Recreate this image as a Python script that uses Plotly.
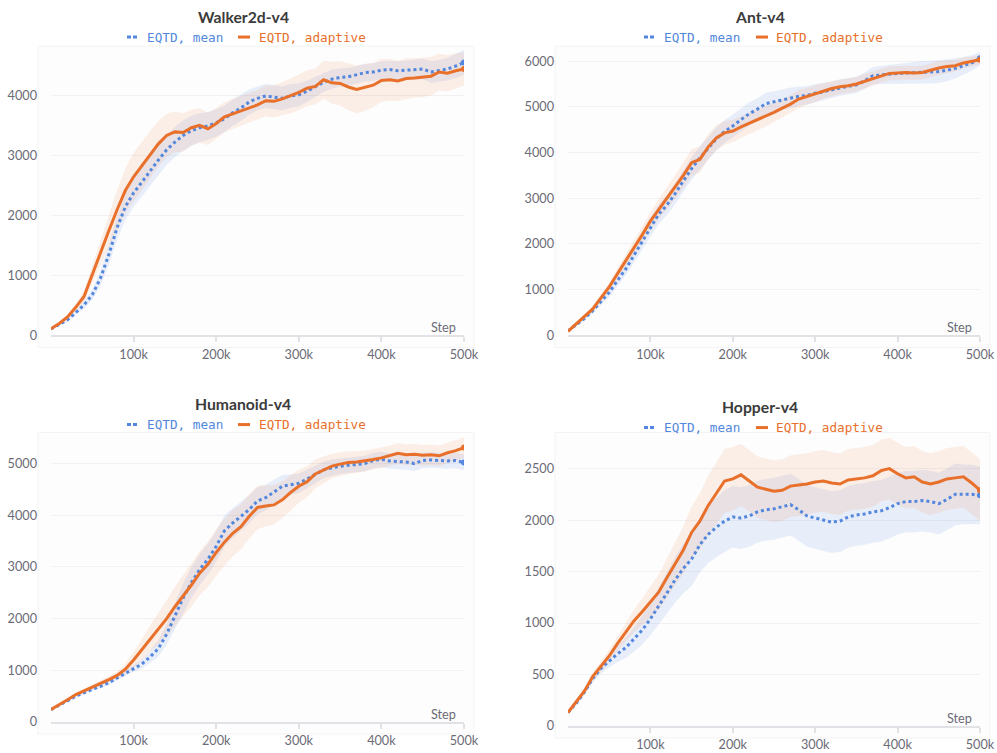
import numpy as np
import plotly.graph_objects as go

STEPS = list(range(0, 500001, 10000))
XTICKS = [100000, 200000, 300000, 400000, 500000]
XTICK_LABELS = ["100k", "200k", "300k", "400k", "500k"]

TITLES = ["Walker2d-v4", "Ant-v4", "Humanoid-v4", "Hopper-v4"]
SERIES_NAMES = ["EQTD, mean", "EQTD, adaptive"]

# ---------------- Walker2d-v4 ----------------
walker_mean = [110, 190, 260, 380, 510, 680, 960, 1350, 1800, 2150, 2380, 2560, 2750, 2930, 3100, 3230, 3340,
               3420, 3470, 3500, 3550, 3620, 3720, 3800, 3900, 3960, 4000, 3980, 3960, 4000, 4020, 4080, 4150,
               4230, 4280, 4310, 4320, 4350, 4390, 4400, 4430, 4440, 4420, 4430, 4440, 4450, 4400, 4420, 4450,
               4500, 4560]
walker_mean_std = [20, 25, 30, 40, 60, 90, 130, 170, 200, 220, 230, 240, 250, 250, 250, 250, 250, 250, 240, 230,
                   230, 220, 220, 220, 210, 200, 200, 200, 200, 200, 190, 180, 170, 160, 160, 150, 150, 150, 150,
                   150, 150, 150, 160, 160, 170, 170, 180, 180, 190, 200, 210]
walker_adapt = [110, 200, 310, 470, 650, 1020, 1400, 1750, 2100, 2420, 2650, 2830, 3020, 3200, 3340, 3400, 3390,
                3470, 3510, 3450, 3540, 3650, 3700, 3750, 3800, 3850, 3920, 3910, 3950, 4000, 4060, 4130, 4160,
                4270, 4220, 4210, 4150, 4110, 4140, 4180, 4260, 4270, 4250, 4290, 4300, 4310, 4330, 4400, 4380,
                4420, 4450]
walker_adapt_std = [20, 25, 35, 60, 100, 150, 220, 280, 330, 370, 400, 400, 400, 380, 360, 340, 320, 300, 290,
                    270, 260, 250, 250, 250, 250, 250, 260, 270, 280, 290, 300, 300, 300, 320, 350, 370, 390, 400,
                    390, 370, 360, 350, 340, 340, 330, 330, 320, 310, 300, 290, 280]

# ---------------- Ant-v4 ----------------
ant_mean = [100, 230, 370, 540, 740, 940, 1200, 1450, 1750, 2050, 2380, 2650, 2850, 3100, 3380, 3650, 3880, 4100,
            4300, 4460, 4580, 4720, 4850, 4950, 5070, 5110, 5150, 5200, 5230, 5250, 5300, 5330, 5370, 5420, 5450,
            5480, 5570, 5680, 5700, 5710, 5730, 5740, 5750, 5750, 5760, 5770, 5800, 5840, 5900, 5960, 6060]
ant_mean_std = [20, 30, 40, 60, 80, 100, 120, 140, 160, 180, 200, 210, 220, 230, 240, 250, 250, 250, 250, 250,
                250, 250, 250, 240, 240, 230, 230, 220, 210, 200, 200, 190, 180, 180, 180, 180, 180, 190, 200, 210,
                220, 230, 240, 250, 250, 250, 240, 220, 200, 170, 150]
ant_adapt = [90, 250, 400, 580, 820, 1060, 1350, 1630, 1900, 2200, 2500, 2750, 2980, 3240, 3500, 3780, 3850, 4120,
             4320, 4430, 4470, 4560, 4640, 4720, 4790, 4880, 4970, 5060, 5170, 5230, 5280, 5350, 5400, 5440, 5460,
             5500, 5560, 5620, 5680, 5730, 5740, 5750, 5740, 5750, 5800, 5850, 5880, 5900, 5960, 5990, 6030]
ant_adapt_std = [20, 30, 40, 60, 80, 100, 120, 140, 160, 180, 200, 220, 240, 260, 280, 290, 290, 280, 270, 260,
                 250, 240, 240, 230, 220, 210, 200, 200, 200, 190, 180, 170, 170, 160, 160, 160, 160, 150, 150, 150,
                 150, 150, 150, 150, 150, 150, 140, 130, 120, 110, 100]

# ---------------- Humanoid-v4 ----------------
humanoid_mean = [240, 320, 410, 500, 570, 630, 690, 760, 850, 940, 1040, 1120, 1260, 1420, 1700, 2050, 2400, 2700,
                 2950, 3150, 3400, 3700, 3850, 3980, 4110, 4280, 4340, 4450, 4560, 4590, 4620, 4700, 4790, 4880,
                 4920, 4950, 4970, 4980, 5000, 5060, 5080, 5050, 5040, 5030, 5000, 5060, 5070, 5060, 5050, 5060,
                 5020]
humanoid_mean_std = [20, 20, 25, 30, 30, 35, 40, 45, 50, 60, 70, 90, 120, 160, 200, 250, 280, 300, 300, 300, 300,
                     300, 290, 280, 270, 260, 250, 240, 220, 200, 190, 180, 170, 160, 160, 150, 150, 150, 150, 150,
                     150, 150, 150, 150, 150, 150, 150, 150, 150, 150, 150]
humanoid_adapt = [240, 330, 430, 530, 600, 680, 750, 820, 900, 1020, 1200, 1400, 1620, 1800, 2000, 2230, 2430,
                  2650, 2880, 3050, 3280, 3480, 3650, 3780, 3980, 4150, 4180, 4200, 4300, 4440, 4560, 4650, 4800,
                  4880, 4950, 4990, 5020, 5030, 5050, 5080, 5110, 5150, 5200, 5170, 5180, 5160, 5170, 5150, 5210,
                  5250, 5310]
humanoid_adapt_std = [20, 20, 30, 30, 40, 40, 50, 60, 70, 100, 150, 200, 250, 300, 350, 380, 400, 420, 430, 440,
                      450, 450, 450, 440, 430, 420, 400, 380, 360, 340, 320, 300, 280, 260, 240, 230, 220, 210, 200,
                      200, 200, 200, 200, 200, 200, 200, 200, 200, 200, 200, 200]

# ---------------- Hopper-v4 ----------------
hopper_mean = [130, 220, 330, 460, 560, 630, 700, 760, 840, 930, 1040, 1160, 1290, 1420, 1530, 1620, 1760, 1860,
               1930, 1990, 2030, 2020, 2040, 2080, 2100, 2110, 2130, 2150, 2100, 2040, 2020, 2000, 1980, 1990, 2030,
               2050, 2060, 2080, 2090, 2120, 2160, 2180, 2180, 2190, 2180, 2160, 2200, 2250, 2250, 2250, 2240]
hopper_mean_std = [10, 20, 30, 40, 50, 60, 80, 100, 120, 140, 160, 180, 200, 220, 240, 260, 270, 280, 290, 300,
                   300, 300, 300, 300, 300, 300, 300, 300, 300, 300, 300, 300, 300, 300, 300, 300, 300, 300, 300,
                   300, 300, 300, 300, 300, 300, 300, 300, 300, 290, 290, 280]
hopper_adapt = [130, 230, 340, 480, 580, 680, 800, 910, 1020, 1110, 1200, 1300, 1440, 1580, 1710, 1880, 1990, 2140,
                2260, 2380, 2400, 2440, 2380, 2320, 2300, 2280, 2290, 2330, 2340, 2350, 2370, 2380, 2360, 2350,
                2390, 2400, 2410, 2430, 2480, 2500, 2450, 2410, 2420, 2370, 2350, 2370, 2400, 2410, 2420, 2360,
                2290]
hopper_adapt_std = [10, 20, 30, 40, 50, 60, 70, 90, 110, 130, 150, 170, 190, 210, 230, 250, 270, 290, 300, 310,
                    310, 300, 300, 300, 300, 300, 300, 300, 300, 300, 300, 300, 300, 300, 300, 300, 300, 300, 300,
                    300, 300, 300, 300, 300, 300, 300, 300, 300, 300, 300, 300]

PANELS = [
    (walker_mean, walker_mean_std, walker_adapt, walker_adapt_std),
    (ant_mean, ant_mean_std, ant_adapt, ant_adapt_std),
    (humanoid_mean, humanoid_mean_std, humanoid_adapt, humanoid_adapt_std),
    (hopper_mean, hopper_mean_std, hopper_adapt, hopper_adapt_std),
]
Y_RANGES = [[0, 4800], [0, 6250], [0, 5600], [0, 2850]]
Y_TICKS = [[0, 1000, 2000, 3000, 4000],
           [0, 1000, 2000, 3000, 4000, 5000, 6000],
           [0, 1000, 2000, 3000, 4000, 5000],
           [0, 500, 1000, 1500, 2000, 2500]]

# ---------------- styling / layout ----------------
REF_W, REF_H = 997, 753          # coordinates below are given in these window pixels
W, H = 1012, 761                 # figure size (the photographed page is fitted back to 997x753)
FS = W / REF_W                   # font scale so text keeps its size after fitting
BLUE = "#5387dd"
ORANGE = "#e8702a"
BLUE_FILL = "rgba(83,135,221,0.12)"
ORANGE_FILL = "rgba(232,112,42,0.10)"
TICK_COLOR = "#6b6b76"
FONT = "Lato"
MONO = "DejaVu Sans Mono"

# positions in window pixels: (left, right, top, bottom)
AREAS = [(51, 464, 48, 335), (568, 980, 49.6, 335), (51, 464, 432, 721), (568, 980, 432, 725)]
FRAMES = [(38, 474, 46, 347), (555, 990, 46, 347), (38, 474, 432, 733), (555, 990, 432, 737)]
TITLE_POS = [(243, 16), (760, 16), (243, 403), (760, 406)]
LEGEND_POS = [(127, 145, 238, 257, 37), (644, 662, 756, 774, 37),
              (127, 145, 238, 257, 424), (644, 662, 756, 774, 427)]


def px(x):
    return x / REF_W


def py(y):
    return 1 - y / REF_H


fig = go.Figure()
layout = dict(width=W, height=H, margin=dict(l=0, r=0, t=0, b=0),
              paper_bgcolor="white", plot_bgcolor="rgba(0,0,0,0)", showlegend=False)
shapes = []
annotations = []

steps = np.array(STEPS)
for i, (m, ms, a, as_) in enumerate(PANELS):
    n = "" if i == 0 else str(i + 1)
    xa, ya = "x" + n, "y" + n
    m, ms, a, as_ = map(np.array, (m, ms, a, as_))
    for mean, std, fill in ((m, ms, BLUE_FILL), (a, as_, ORANGE_FILL)):
        fig.add_trace(go.Scatter(x=steps, y=mean + std, mode="lines", line=dict(width=0),
                                 xaxis=xa, yaxis=ya, hoverinfo="skip"))
        fig.add_trace(go.Scatter(x=steps, y=mean - std, mode="lines", line=dict(width=0),
                                 fill="tonexty", fillcolor=fill, xaxis=xa, yaxis=ya, hoverinfo="skip"))
    fig.add_trace(go.Scatter(x=steps, y=m, mode="lines", name=SERIES_NAMES[0],
                             line=dict(color=BLUE, width=3, dash="dot"), xaxis=xa, yaxis=ya))
    fig.add_trace(go.Scatter(x=steps, y=a, mode="lines", name=SERIES_NAMES[1],
                             line=dict(color=ORANGE, width=3), xaxis=xa, yaxis=ya))
    fig.add_trace(go.Scatter(x=[steps[-1]], y=[m[-1]], mode="markers", marker=dict(color=BLUE, size=6),
                             xaxis=xa, yaxis=ya))
    fig.add_trace(go.Scatter(x=[steps[-1]], y=[a[-1]], mode="markers", marker=dict(color=ORANGE, size=6),
                             xaxis=xa, yaxis=ya))

    l, r, t, b = AREAS[i]
    layout["xaxis" + n] = dict(domain=[px(l), px(r)], anchor=ya, range=[0, 500000],
                               tickvals=XTICKS, ticktext=XTICK_LABELS, showgrid=False, zeroline=False,
                               showline=True, linecolor="#e2e2e6", linewidth=2, ticks="outside", ticklen=5,
                               tickwidth=1.5, tickcolor="#e2e2e6", ticklabelstandoff=1,
                               tickfont=dict(family=FONT, size=12.5 * FS, color=TICK_COLOR), fixedrange=True)
    layout["yaxis" + n] = dict(domain=[py(b), py(t)], anchor=xa, range=Y_RANGES[i], tickvals=Y_TICKS[i],
                               showgrid=True, gridcolor="#f1f1f3", gridwidth=1, zeroline=False, showline=False,
                               ticks="", ticklabelstandoff=13,
                               tickfont=dict(family=FONT, size=12.5 * FS, color=TICK_COLOR), fixedrange=True)

    fl, fr, ft, fb = FRAMES[i]
    shapes.append(dict(type="rect", xref="paper", yref="paper", x0=px(fl), x1=px(fr), y0=py(fb), y1=py(ft),
                       line=dict(color="#f3f3f5", width=1), fillcolor="#fdfdfd", layer="below"))

    tx, ty = TITLE_POS[i]
    annotations.append(dict(text="<b>%s</b>" % TITLES[i], xref="paper", yref="paper", x=px(tx), y=py(ty),
                            showarrow=False, xanchor="center", yanchor="middle",
                            font=dict(family=FONT, size=15.5 * FS, color="#3b3b3b")))
    bx, btx, ox, otx, ly = LEGEND_POS[i]
    shapes.append(dict(type="line", xref="paper", yref="paper", x0=px(bx), x1=px(bx + 11), y0=py(ly), y1=py(ly),
                       line=dict(color=BLUE, width=3, dash="4px,2px")))
    shapes.append(dict(type="line", xref="paper", yref="paper", x0=px(ox), x1=px(ox + 12), y0=py(ly), y1=py(ly),
                       line=dict(color=ORANGE, width=3)))
    annotations.append(dict(text=SERIES_NAMES[0], xref="paper", yref="paper", x=px(btx), y=py(ly),
                            showarrow=False, xanchor="left", yanchor="middle",
                            font=dict(family=MONO, size=12.5 * FS, color=BLUE)))
    annotations.append(dict(text=SERIES_NAMES[1], xref="paper", yref="paper", x=px(otx), y=py(ly),
                            showarrow=False, xanchor="left", yanchor="middle",
                            font=dict(family=MONO, size=12.5 * FS, color=ORANGE)))
    annotations.append(dict(text="Step", xref="paper", yref="paper", x=px(r - 6), y=py(b - 8),
                            showarrow=False, xanchor="right", yanchor="middle",
                            font=dict(family=FONT, size=12.5 * FS, color=TICK_COLOR)))

layout["shapes"] = shapes
layout["annotations"] = annotations
fig.update_layout(**layout)

PAGE_JS = ("document.documentElement.style.margin='0';document.documentElement.style.padding='0';"
           "document.documentElement.style.overflow='hidden';"
           "document.body.style.margin='0';document.body.style.padding='0';document.body.style.overflow='hidden';")
fig.write_html("out.html", post_script=PAGE_JS, config={"displayModeBar": False})
